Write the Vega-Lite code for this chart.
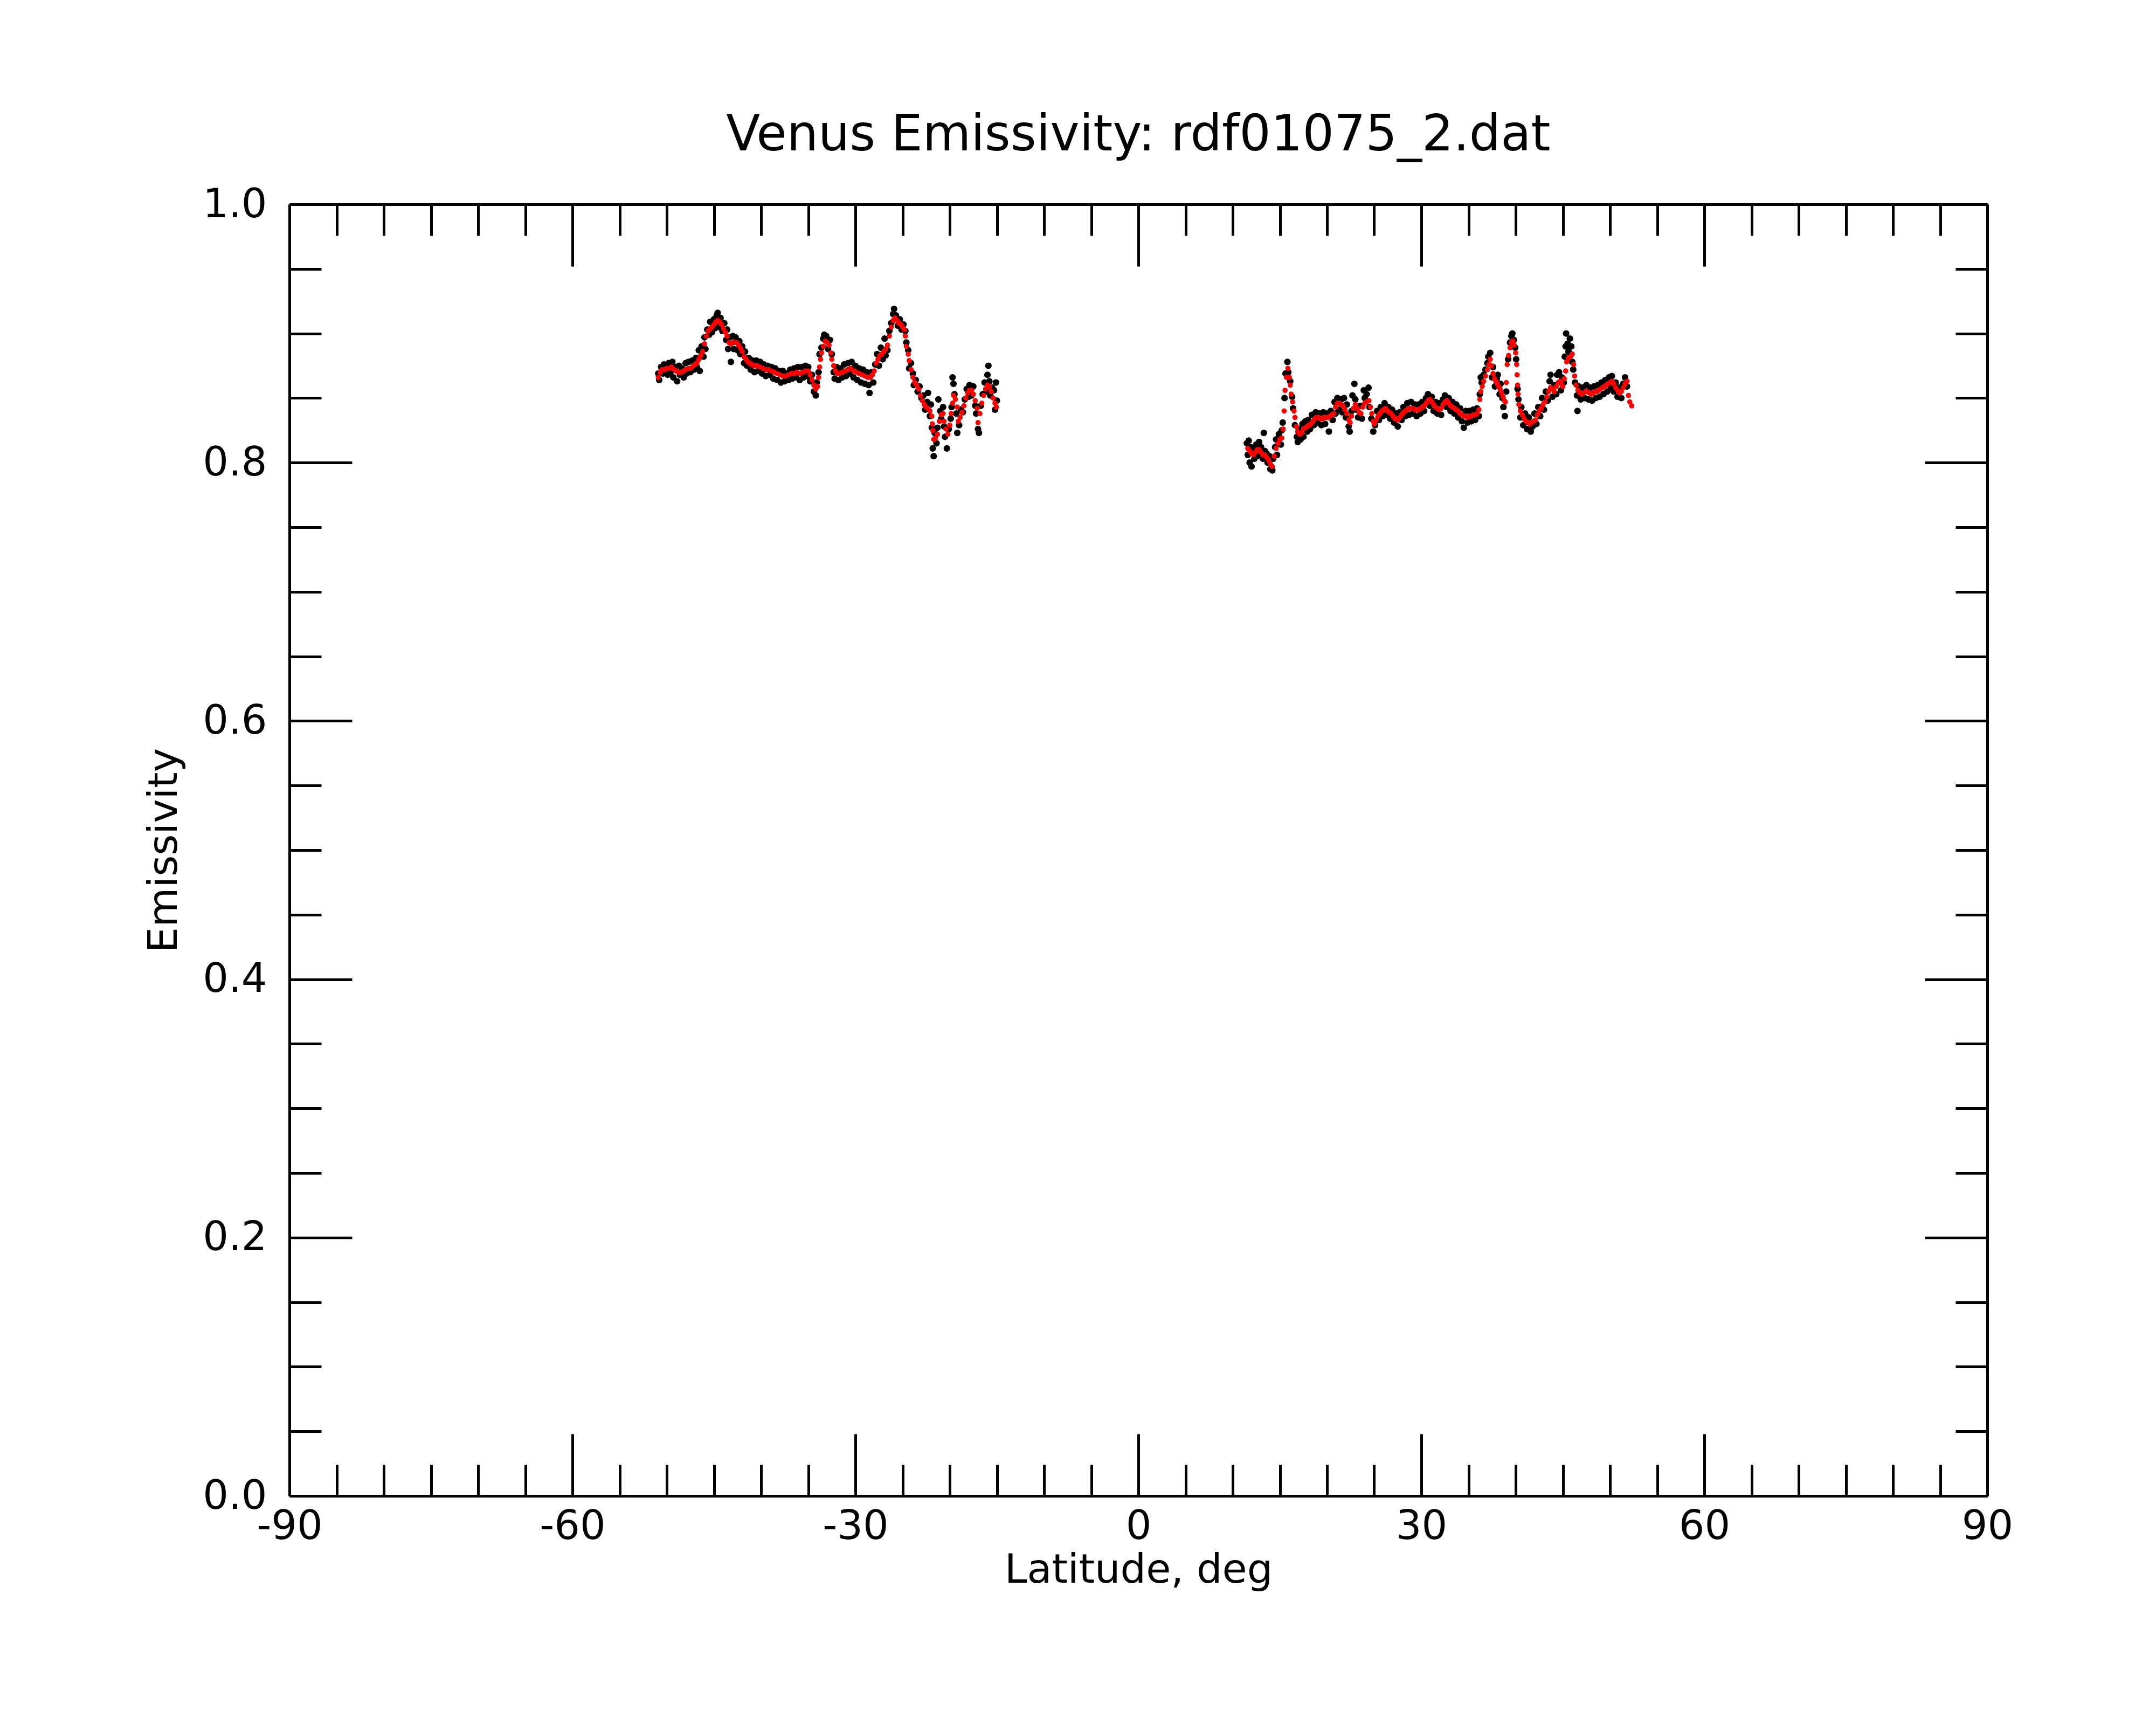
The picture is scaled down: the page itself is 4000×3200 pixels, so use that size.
{
"$schema": "https://vega.github.io/schema/vega-lite/v6.json",
"width": 3150, "height": 2396,
"autosize": {"type": "none"},
"padding": {"left": 537, "top": 379, "right": 313, "bottom": 425},
"background": "white",
"config": {"view": {"stroke": null}, "font": "DejaVu Sans"},
"title": {"text": "Venus Emissivity: rdf01075_2.dat", "fontSize": 92, "font": "DejaVu Sans", "fontWeight": "normal", "color": "black", "anchor": "middle", "offset": 44},
"datasets": {
"raw": [
{"lat":-50.9,"e":0.869},{"lat":-50.8,"e":0.864},{"lat":-50.6,"e":0.874},{"lat":-50.4,"e":0.869},{"lat":-50.3,"e":0.876},{"lat":-50.1,"e":0.871},{"lat":-49.9,"e":0.868},{"lat":-49.8,"e":0.877},{"lat":-49.6,"e":0.870},{"lat":-49.4,"e":0.878},{"lat":-49.3,"e":0.866},{"lat":-49.1,"e":0.874},{"lat":-48.9,"e":0.863},{"lat":-48.7,"e":0.875},{"lat":-48.6,"e":0.868},{"lat":-48.4,"e":0.873},{"lat":-48.2,"e":0.866},{"lat":-48.0,"e":0.877},{"lat":-47.9,"e":0.869},{"lat":-47.7,"e":0.878},{"lat":-47.5,"e":0.870},{"lat":-47.3,"e":0.879},{"lat":-47.1,"e":0.872},{"lat":-46.9,"e":0.881},{"lat":-46.8,"e":0.874},{"lat":-46.6,"e":0.887},{"lat":-46.5,"e":0.871},{"lat":-46.3,"e":0.890},{"lat":-46.1,"e":0.882},{"lat":-46.0,"e":0.897},{"lat":-45.9,"e":0.888},{"lat":-45.7,"e":0.903},{"lat":-45.5,"e":0.899},{"lat":-45.4,"e":0.909},{"lat":-45.2,"e":0.901},{"lat":-45.0,"e":0.911},{"lat":-44.9,"e":0.904},{"lat":-44.7,"e":0.914},{"lat":-44.6,"e":0.916},{"lat":-44.5,"e":0.905},{"lat":-44.3,"e":0.912},{"lat":-44.1,"e":0.902},{"lat":-43.9,"e":0.908},{"lat":-43.7,"e":0.895},{"lat":-43.6,"e":0.903},{"lat":-43.5,"e":0.888},{"lat":-43.3,"e":0.897},{"lat":-43.2,"e":0.878},{"lat":-43.0,"e":0.898},{"lat":-42.9,"e":0.888},{"lat":-42.7,"e":0.897},{"lat":-42.5,"e":0.887},{"lat":-42.3,"e":0.894},{"lat":-42.2,"e":0.884},{"lat":-42.0,"e":0.890},{"lat":-41.8,"e":0.877},{"lat":-41.7,"e":0.886},{"lat":-41.5,"e":0.875},{"lat":-41.3,"e":0.881},{"lat":-41.1,"e":0.872},{"lat":-40.9,"e":0.879},{"lat":-40.7,"e":0.870},{"lat":-40.5,"e":0.879},{"lat":-40.3,"e":0.871},{"lat":-40.1,"e":0.878},{"lat":-39.9,"e":0.869},{"lat":-39.7,"e":0.876},{"lat":-39.5,"e":0.867},{"lat":-39.3,"e":0.875},{"lat":-39.1,"e":0.868},{"lat":-38.9,"e":0.874},{"lat":-38.7,"e":0.865},{"lat":-38.5,"e":0.873},{"lat":-38.3,"e":0.864},{"lat":-38.1,"e":0.871},{"lat":-37.9,"e":0.862},{"lat":-37.7,"e":0.871},{"lat":-37.5,"e":0.863},{"lat":-37.3,"e":0.869},{"lat":-37.1,"e":0.864},{"lat":-36.9,"e":0.872},{"lat":-36.7,"e":0.865},{"lat":-36.5,"e":0.873},{"lat":-36.3,"e":0.866},{"lat":-36.1,"e":0.874},{"lat":-35.9,"e":0.864},{"lat":-35.7,"e":0.874},{"lat":-35.5,"e":0.866},{"lat":-35.3,"e":0.875},{"lat":-35.1,"e":0.867},{"lat":-35.0,"e":0.874},{"lat":-34.8,"e":0.863},{"lat":-34.6,"e":0.868},{"lat":-34.4,"e":0.855},{"lat":-34.2,"e":0.852},{"lat":-34.1,"e":0.862},{"lat":-33.9,"e":0.870},{"lat":-33.8,"e":0.884},{"lat":-33.6,"e":0.889},{"lat":-33.4,"e":0.896},{"lat":-33.3,"e":0.899},{"lat":-33.1,"e":0.898},{"lat":-32.9,"e":0.888},{"lat":-32.7,"e":0.895},{"lat":-32.5,"e":0.884},{"lat":-32.3,"e":0.870},{"lat":-32.2,"e":0.865},{"lat":-32.0,"e":0.874},{"lat":-31.8,"e":0.864},{"lat":-31.6,"e":0.873},{"lat":-31.4,"e":0.866},{"lat":-31.2,"e":0.876},{"lat":-31.0,"e":0.867},{"lat":-30.8,"e":0.877},{"lat":-30.6,"e":0.869},{"lat":-30.4,"e":0.878},{"lat":-30.2,"e":0.866},{"lat":-30.0,"e":0.875},{"lat":-29.8,"e":0.864},{"lat":-29.6,"e":0.873},{"lat":-29.4,"e":0.862},{"lat":-29.2,"e":0.872},{"lat":-29.0,"e":0.861},{"lat":-28.8,"e":0.870},{"lat":-28.6,"e":0.860},{"lat":-28.5,"e":0.854},{"lat":-28.3,"e":0.870},{"lat":-28.1,"e":0.862},{"lat":-27.9,"e":0.876},{"lat":-27.7,"e":0.884},{"lat":-27.5,"e":0.875},{"lat":-27.3,"e":0.889},{"lat":-27.1,"e":0.880},{"lat":-26.9,"e":0.896},{"lat":-26.8,"e":0.883},{"lat":-26.6,"e":0.887},{"lat":-26.4,"e":0.902},{"lat":-26.2,"e":0.908},{"lat":-26.0,"e":0.915},{"lat":-25.9,"e":0.919},{"lat":-25.7,"e":0.914},{"lat":-25.5,"e":0.906},{"lat":-25.3,"e":0.911},{"lat":-25.1,"e":0.903},{"lat":-24.9,"e":0.907},{"lat":-24.7,"e":0.902},{"lat":-24.6,"e":0.893},{"lat":-24.4,"e":0.887},{"lat":-24.3,"e":0.873},{"lat":-24.1,"e":0.877},{"lat":-23.9,"e":0.869},{"lat":-23.8,"e":0.860},{"lat":-23.6,"e":0.864},{"lat":-23.4,"e":0.855},{"lat":-23.2,"e":0.859},{"lat":-23.0,"e":0.850},{"lat":-22.8,"e":0.852},{"lat":-22.6,"e":0.841},{"lat":-22.4,"e":0.847},{"lat":-22.3,"e":0.854},{"lat":-22.1,"e":0.836},{"lat":-22.0,"e":0.845},{"lat":-21.9,"e":0.827},{"lat":-21.8,"e":0.811},{"lat":-21.7,"e":0.805},{"lat":-21.6,"e":0.823},{"lat":-21.4,"e":0.815},{"lat":-21.3,"e":0.827},{"lat":-21.2,"e":0.849},{"lat":-21.0,"e":0.840},{"lat":-20.9,"e":0.834},{"lat":-20.7,"e":0.843},{"lat":-20.6,"e":0.828},{"lat":-20.5,"e":0.820},{"lat":-20.3,"e":0.811},{"lat":-20.1,"e":0.826},{"lat":-19.9,"e":0.834},{"lat":-19.8,"e":0.843},{"lat":-19.7,"e":0.866},{"lat":-19.6,"e":0.861},{"lat":-19.5,"e":0.853},{"lat":-19.3,"e":0.838},{"lat":-19.2,"e":0.823},{"lat":-19.0,"e":0.829},{"lat":-18.8,"e":0.841},{"lat":-18.6,"e":0.839},{"lat":-18.4,"e":0.849},{"lat":-18.2,"e":0.857},{"lat":-18.0,"e":0.851},{"lat":-17.9,"e":0.860},{"lat":-17.7,"e":0.852},{"lat":-17.5,"e":0.859},{"lat":-17.3,"e":0.844},{"lat":-17.2,"e":0.838},{"lat":-17.0,"e":0.826},{"lat":-16.9,"e":0.823},{"lat":-16.7,"e":0.844},{"lat":-16.5,"e":0.853},{"lat":-16.3,"e":0.862},{"lat":-16.1,"e":0.855},{"lat":-16.0,"e":0.868},{"lat":-15.9,"e":0.875},{"lat":-15.8,"e":0.863},{"lat":-15.7,"e":0.852},{"lat":-15.5,"e":0.858},{"lat":-15.3,"e":0.856},{"lat":-15.2,"e":0.841},{"lat":-15.1,"e":0.862},{"lat":-15.0,"e":0.848},
{"lat":11.5,"e":0.815},{"lat":11.6,"e":0.806},{"lat":11.7,"e":0.817},{"lat":11.8,"e":0.800},{"lat":11.9,"e":0.812},{"lat":12.0,"e":0.797},{"lat":12.2,"e":0.811},{"lat":12.3,"e":0.803},{"lat":12.5,"e":0.814},{"lat":12.6,"e":0.805},{"lat":12.8,"e":0.816},{"lat":12.9,"e":0.806},{"lat":13.0,"e":0.812},{"lat":13.2,"e":0.803},{"lat":13.3,"e":0.823},{"lat":13.4,"e":0.809},{"lat":13.6,"e":0.807},{"lat":13.7,"e":0.800},{"lat":13.9,"e":0.805},{"lat":14.0,"e":0.795},{"lat":14.2,"e":0.794},{"lat":14.3,"e":0.803},{"lat":14.5,"e":0.812},{"lat":14.6,"e":0.818},{"lat":14.7,"e":0.806},{"lat":14.9,"e":0.822},{"lat":15.1,"e":0.814},{"lat":15.2,"e":0.825},{"lat":15.3,"e":0.831},{"lat":15.5,"e":0.850},{"lat":15.6,"e":0.869},{"lat":15.8,"e":0.878},{"lat":15.9,"e":0.870},{"lat":16.1,"e":0.863},{"lat":16.3,"e":0.851},{"lat":16.4,"e":0.842},{"lat":16.6,"e":0.829},{"lat":16.8,"e":0.820},{"lat":16.9,"e":0.816},{"lat":17.0,"e":0.826},{"lat":17.2,"e":0.818},{"lat":17.4,"e":0.830},{"lat":17.5,"e":0.820},{"lat":17.7,"e":0.832},{"lat":17.9,"e":0.824},{"lat":18.0,"e":0.833},{"lat":18.2,"e":0.826},{"lat":18.4,"e":0.837},{"lat":18.6,"e":0.829},{"lat":18.8,"e":0.839},{"lat":19.0,"e":0.831},{"lat":19.2,"e":0.838},{"lat":19.4,"e":0.829},{"lat":19.6,"e":0.839},{"lat":19.8,"e":0.830},{"lat":20.0,"e":0.838},{"lat":20.2,"e":0.824},{"lat":20.4,"e":0.840},{"lat":20.6,"e":0.833},{"lat":20.8,"e":0.847},{"lat":20.9,"e":0.838},{"lat":21.1,"e":0.850},{"lat":21.3,"e":0.841},{"lat":21.5,"e":0.849},{"lat":21.6,"e":0.839},{"lat":21.8,"e":0.850},{"lat":22.0,"e":0.835},{"lat":22.1,"e":0.845},{"lat":22.3,"e":0.828},{"lat":22.4,"e":0.824},{"lat":22.6,"e":0.840},{"lat":22.7,"e":0.852},{"lat":22.9,"e":0.861},{"lat":23.0,"e":0.849},{"lat":23.1,"e":0.841},{"lat":23.3,"e":0.835},{"lat":23.5,"e":0.844},{"lat":23.7,"e":0.834},{"lat":23.9,"e":0.856},{"lat":24.0,"e":0.850},{"lat":24.2,"e":0.853},{"lat":24.4,"e":0.858},{"lat":24.5,"e":0.843},{"lat":24.7,"e":0.834},{"lat":24.9,"e":0.824},{"lat":25.1,"e":0.829},{"lat":25.3,"e":0.840},{"lat":25.5,"e":0.833},{"lat":25.7,"e":0.843},{"lat":25.9,"e":0.836},{"lat":26.1,"e":0.846},{"lat":26.3,"e":0.837},{"lat":26.5,"e":0.843},{"lat":26.7,"e":0.834},{"lat":26.9,"e":0.841},{"lat":27.1,"e":0.831},{"lat":27.3,"e":0.838},{"lat":27.5,"e":0.828},{"lat":27.7,"e":0.839},{"lat":27.9,"e":0.833},{"lat":28.1,"e":0.843},{"lat":28.3,"e":0.836},{"lat":28.5,"e":0.846},{"lat":28.7,"e":0.837},{"lat":28.9,"e":0.847},{"lat":29.1,"e":0.838},{"lat":29.3,"e":0.845},{"lat":29.5,"e":0.836},{"lat":29.7,"e":0.845},{"lat":29.9,"e":0.838},{"lat":30.1,"e":0.847},{"lat":30.3,"e":0.840},{"lat":30.5,"e":0.850},{"lat":30.7,"e":0.853},{"lat":30.9,"e":0.844},{"lat":31.1,"e":0.851},{"lat":31.3,"e":0.840},{"lat":31.5,"e":0.847},{"lat":31.7,"e":0.838},{"lat":31.9,"e":0.846},{"lat":32.1,"e":0.837},{"lat":32.3,"e":0.849},{"lat":32.5,"e":0.852},{"lat":32.7,"e":0.843},{"lat":32.9,"e":0.850},{"lat":33.1,"e":0.840},{"lat":33.3,"e":0.847},{"lat":33.5,"e":0.838},{"lat":33.7,"e":0.845},{"lat":33.9,"e":0.835},{"lat":34.1,"e":0.842},{"lat":34.3,"e":0.832},{"lat":34.5,"e":0.827},{"lat":34.7,"e":0.840},{"lat":34.9,"e":0.831},{"lat":35.1,"e":0.840},{"lat":35.3,"e":0.832},{"lat":35.5,"e":0.841},{"lat":35.7,"e":0.833},{"lat":35.9,"e":0.842},{"lat":36.1,"e":0.836},{"lat":36.2,"e":0.853},{"lat":36.3,"e":0.866},{"lat":36.4,"e":0.862},{"lat":36.6,"e":0.868},{"lat":36.8,"e":0.872},{"lat":37.0,"e":0.877},{"lat":37.1,"e":0.882},{"lat":37.3,"e":0.885},{"lat":37.5,"e":0.866},{"lat":37.6,"e":0.874},{"lat":37.8,"e":0.859},{"lat":38.0,"e":0.865},{"lat":38.1,"e":0.868},{"lat":38.3,"e":0.853},{"lat":38.4,"e":0.861},{"lat":38.6,"e":0.850},{"lat":38.7,"e":0.843},{"lat":38.85,"e":0.836},{"lat":39.0,"e":0.855},{"lat":39.2,"e":0.880},{"lat":39.4,"e":0.893},{"lat":39.55,"e":0.898},{"lat":39.65,"e":0.900},{"lat":39.8,"e":0.895},{"lat":39.95,"e":0.889},{"lat":40.05,"e":0.880},{"lat":40.2,"e":0.857},{"lat":40.3,"e":0.849},{"lat":40.5,"e":0.835},{"lat":40.6,"e":0.843},{"lat":40.8,"e":0.829},{"lat":41.0,"e":0.838},{"lat":41.2,"e":0.826},{"lat":41.4,"e":0.835},{"lat":41.6,"e":0.824},{"lat":41.8,"e":0.828},{"lat":42.0,"e":0.838},{"lat":42.2,"e":0.830},{"lat":42.4,"e":0.843},{"lat":42.6,"e":0.836},{"lat":42.8,"e":0.850},{"lat":43.0,"e":0.841},{"lat":43.2,"e":0.855},{"lat":43.4,"e":0.848},{"lat":43.6,"e":0.863},{"lat":43.7,"e":0.868},{"lat":43.9,"e":0.851},{"lat":44.1,"e":0.860},{"lat":44.3,"e":0.853},{"lat":44.4,"e":0.868},{"lat":44.6,"e":0.870},{"lat":44.8,"e":0.856},{"lat":44.9,"e":0.866},{"lat":45.1,"e":0.862},{"lat":45.2,"e":0.882},{"lat":45.3,"e":0.890},{"lat":45.35,"e":0.900},{"lat":45.5,"e":0.892},{"lat":45.6,"e":0.886},{"lat":45.75,"e":0.896},{"lat":45.9,"e":0.890},{"lat":46.0,"e":0.878},{"lat":46.1,"e":0.872},{"lat":46.3,"e":0.862},{"lat":46.5,"e":0.852},{"lat":46.55,"e":0.840},{"lat":46.7,"e":0.859},{"lat":46.9,"e":0.849},{"lat":47.1,"e":0.858},{"lat":47.3,"e":0.850},{"lat":47.5,"e":0.860},{"lat":47.7,"e":0.849},{"lat":47.9,"e":0.858},{"lat":48.1,"e":0.848},{"lat":48.3,"e":0.859},{"lat":48.5,"e":0.850},{"lat":48.7,"e":0.860},{"lat":48.9,"e":0.851},{"lat":49.1,"e":0.862},{"lat":49.3,"e":0.853},{"lat":49.5,"e":0.864},{"lat":49.7,"e":0.855},{"lat":49.9,"e":0.866},{"lat":50.1,"e":0.858},{"lat":50.2,"e":0.867},{"lat":50.4,"e":0.855},{"lat":50.6,"e":0.862},{"lat":50.8,"e":0.851},{"lat":51.0,"e":0.858},{"lat":51.2,"e":0.850},{"lat":51.4,"e":0.861},{"lat":51.6,"e":0.866},{"lat":51.8,"e":0.859}
],
"smooth": [
{"lat":-50.9,"e":0.866},{"lat":-50.7,"e":0.870},{"lat":-50.5,"e":0.872},{"lat":-50.2,"e":0.872},{"lat":-50.0,"e":0.873},{"lat":-49.7,"e":0.873},{"lat":-49.5,"e":0.874},{"lat":-49.2,"e":0.872},{"lat":-49.0,"e":0.871},{"lat":-48.8,"e":0.870},{"lat":-48.5,"e":0.870},{"lat":-48.2,"e":0.871},{"lat":-48.0,"e":0.872},{"lat":-47.7,"e":0.873},{"lat":-47.5,"e":0.873},{"lat":-47.2,"e":0.875},{"lat":-47.0,"e":0.876},{"lat":-46.8,"e":0.877},{"lat":-46.6,"e":0.880},{"lat":-46.4,"e":0.883},{"lat":-46.2,"e":0.886},{"lat":-46.0,"e":0.892},{"lat":-45.8,"e":0.898},{"lat":-45.6,"e":0.902},{"lat":-45.4,"e":0.904},{"lat":-45.2,"e":0.905},{"lat":-45.0,"e":0.907},{"lat":-44.8,"e":0.909},{"lat":-44.6,"e":0.910},{"lat":-44.4,"e":0.909},{"lat":-44.2,"e":0.907},{"lat":-44.0,"e":0.904},{"lat":-43.8,"e":0.901},{"lat":-43.6,"e":0.898},{"lat":-43.4,"e":0.893},{"lat":-43.2,"e":0.892},{"lat":-43.0,"e":0.893},{"lat":-42.8,"e":0.893},{"lat":-42.6,"e":0.893},{"lat":-42.4,"e":0.891},{"lat":-42.2,"e":0.889},{"lat":-42.0,"e":0.886},{"lat":-41.8,"e":0.882},{"lat":-41.6,"e":0.880},{"lat":-41.4,"e":0.878},{"lat":-41.2,"e":0.877},{"lat":-41.0,"e":0.876},{"lat":-40.7,"e":0.875},{"lat":-40.4,"e":0.875},{"lat":-40.1,"e":0.874},{"lat":-39.8,"e":0.873},{"lat":-39.5,"e":0.872},{"lat":-39.2,"e":0.872},{"lat":-38.9,"e":0.871},{"lat":-38.6,"e":0.870},{"lat":-38.3,"e":0.869},{"lat":-38.0,"e":0.868},{"lat":-37.7,"e":0.867},{"lat":-37.4,"e":0.867},{"lat":-37.1,"e":0.868},{"lat":-36.8,"e":0.869},{"lat":-36.5,"e":0.869},{"lat":-36.2,"e":0.870},{"lat":-35.9,"e":0.869},{"lat":-35.6,"e":0.870},{"lat":-35.3,"e":0.871},{"lat":-35.0,"e":0.871},{"lat":-34.8,"e":0.868},{"lat":-34.6,"e":0.864},{"lat":-34.4,"e":0.860},{"lat":-34.2,"e":0.857},{"lat":-34.0,"e":0.859},{"lat":-33.9,"e":0.866},{"lat":-33.8,"e":0.874},{"lat":-33.7,"e":0.880},{"lat":-33.6,"e":0.885},{"lat":-33.4,"e":0.890},{"lat":-33.2,"e":0.894},{"lat":-33.0,"e":0.893},{"lat":-32.8,"e":0.891},{"lat":-32.6,"e":0.885},{"lat":-32.5,"e":0.880},{"lat":-32.3,"e":0.875},{"lat":-32.1,"e":0.871},{"lat":-31.9,"e":0.869},{"lat":-31.7,"e":0.869},{"lat":-31.4,"e":0.870},{"lat":-31.1,"e":0.871},{"lat":-30.8,"e":0.872},{"lat":-30.5,"e":0.873},{"lat":-30.2,"e":0.871},{"lat":-29.9,"e":0.870},{"lat":-29.6,"e":0.869},{"lat":-29.3,"e":0.868},{"lat":-29.0,"e":0.867},{"lat":-28.7,"e":0.866},{"lat":-28.4,"e":0.866},{"lat":-28.2,"e":0.868},{"lat":-28.0,"e":0.871},{"lat":-27.8,"e":0.877},{"lat":-27.6,"e":0.880},{"lat":-27.4,"e":0.883},{"lat":-27.2,"e":0.884},{"lat":-27.0,"e":0.886},{"lat":-26.8,"e":0.888},{"lat":-26.6,"e":0.891},{"lat":-26.4,"e":0.898},{"lat":-26.2,"e":0.905},{"lat":-26.0,"e":0.910},{"lat":-25.8,"e":0.912},{"lat":-25.6,"e":0.910},{"lat":-25.4,"e":0.908},{"lat":-25.2,"e":0.907},{"lat":-25.0,"e":0.905},{"lat":-24.8,"e":0.903},{"lat":-24.7,"e":0.898},{"lat":-24.6,"e":0.890},{"lat":-24.4,"e":0.884},{"lat":-24.3,"e":0.879},{"lat":-24.1,"e":0.872},{"lat":-23.9,"e":0.866},{"lat":-23.7,"e":0.862},{"lat":-23.5,"e":0.860},{"lat":-23.3,"e":0.857},{"lat":-23.1,"e":0.852},{"lat":-22.9,"e":0.848},{"lat":-22.7,"e":0.845},{"lat":-22.5,"e":0.843},{"lat":-22.3,"e":0.842},{"lat":-22.1,"e":0.840},{"lat":-21.9,"e":0.836},{"lat":-21.85,"e":0.830},{"lat":-21.8,"e":0.825},{"lat":-21.7,"e":0.818},{"lat":-21.5,"e":0.819},{"lat":-21.3,"e":0.822},{"lat":-21.1,"e":0.832},{"lat":-20.9,"e":0.837},{"lat":-20.7,"e":0.838},{"lat":-20.6,"e":0.832},{"lat":-20.4,"e":0.826},{"lat":-20.2,"e":0.822},{"lat":-20.0,"e":0.829},{"lat":-19.85,"e":0.838},{"lat":-19.7,"e":0.846},{"lat":-19.6,"e":0.852},{"lat":-19.4,"e":0.849},{"lat":-19.2,"e":0.843},{"lat":-19.1,"e":0.832},{"lat":-18.9,"e":0.835},{"lat":-18.7,"e":0.839},{"lat":-18.5,"e":0.844},{"lat":-18.3,"e":0.850},{"lat":-18.1,"e":0.854},{"lat":-17.9,"e":0.856},{"lat":-17.7,"e":0.856},{"lat":-17.5,"e":0.853},{"lat":-17.3,"e":0.848},{"lat":-17.1,"e":0.842},{"lat":-17.0,"e":0.831},{"lat":-16.8,"e":0.838},{"lat":-16.6,"e":0.846},{"lat":-16.4,"e":0.852},{"lat":-16.2,"e":0.857},{"lat":-16.0,"e":0.860},{"lat":-15.8,"e":0.859},{"lat":-15.6,"e":0.855},{"lat":-15.4,"e":0.850},{"lat":-15.2,"e":0.846},{"lat":-15.05,"e":0.843},
{"lat":11.6,"e":0.811},{"lat":11.8,"e":0.809},{"lat":12.0,"e":0.807},{"lat":12.2,"e":0.806},{"lat":12.4,"e":0.808},{"lat":12.6,"e":0.810},{"lat":12.8,"e":0.810},{"lat":13.0,"e":0.808},{"lat":13.2,"e":0.806},{"lat":13.4,"e":0.806},{"lat":13.6,"e":0.804},{"lat":13.8,"e":0.802},{"lat":14.0,"e":0.799},{"lat":14.2,"e":0.797},{"lat":14.4,"e":0.805},{"lat":14.6,"e":0.811},{"lat":14.8,"e":0.815},{"lat":15.0,"e":0.818},{"lat":15.2,"e":0.819},{"lat":15.35,"e":0.826},{"lat":15.45,"e":0.840},{"lat":15.55,"e":0.856},{"lat":15.7,"e":0.866},{"lat":15.85,"e":0.873},{"lat":16.0,"e":0.866},{"lat":16.1,"e":0.860},{"lat":16.2,"e":0.853},{"lat":16.35,"e":0.847},{"lat":16.5,"e":0.840},{"lat":16.6,"e":0.835},{"lat":16.75,"e":0.828},{"lat":16.9,"e":0.824},{"lat":17.1,"e":0.822},{"lat":17.3,"e":0.823},{"lat":17.5,"e":0.826},{"lat":17.7,"e":0.827},{"lat":17.9,"e":0.828},{"lat":18.1,"e":0.829},{"lat":18.3,"e":0.830},{"lat":18.5,"e":0.832},{"lat":18.7,"e":0.834},{"lat":18.9,"e":0.835},{"lat":19.1,"e":0.835},{"lat":19.3,"e":0.834},{"lat":19.5,"e":0.834},{"lat":19.7,"e":0.835},{"lat":19.9,"e":0.835},{"lat":20.1,"e":0.835},{"lat":20.3,"e":0.836},{"lat":20.5,"e":0.837},{"lat":20.7,"e":0.838},{"lat":20.9,"e":0.843},{"lat":21.1,"e":0.846},{"lat":21.3,"e":0.846},{"lat":21.5,"e":0.845},{"lat":21.7,"e":0.844},{"lat":21.9,"e":0.841},{"lat":22.1,"e":0.838},{"lat":22.3,"e":0.833},{"lat":22.45,"e":0.831},{"lat":22.6,"e":0.836},{"lat":22.8,"e":0.842},{"lat":23.0,"e":0.845},{"lat":23.2,"e":0.842},{"lat":23.4,"e":0.839},{"lat":23.6,"e":0.838},{"lat":23.8,"e":0.843},{"lat":24.0,"e":0.846},{"lat":24.2,"e":0.847},{"lat":24.45,"e":0.848},{"lat":24.6,"e":0.843},{"lat":24.75,"e":0.838},{"lat":24.9,"e":0.832},{"lat":25.0,"e":0.830},{"lat":25.2,"e":0.833},{"lat":25.4,"e":0.836},{"lat":25.6,"e":0.838},{"lat":25.8,"e":0.840},{"lat":26.0,"e":0.841},{"lat":26.2,"e":0.842},{"lat":26.4,"e":0.840},{"lat":26.6,"e":0.839},{"lat":26.8,"e":0.838},{"lat":27.0,"e":0.836},{"lat":27.2,"e":0.834},{"lat":27.5,"e":0.833},{"lat":27.7,"e":0.835},{"lat":27.9,"e":0.837},{"lat":28.1,"e":0.839},{"lat":28.3,"e":0.840},{"lat":28.5,"e":0.841},{"lat":28.7,"e":0.842},{"lat":28.9,"e":0.842},{"lat":29.1,"e":0.842},{"lat":29.3,"e":0.841},{"lat":29.5,"e":0.841},{"lat":29.7,"e":0.841},{"lat":29.9,"e":0.842},{"lat":30.1,"e":0.843},{"lat":30.3,"e":0.844},{"lat":30.5,"e":0.846},{"lat":30.7,"e":0.848},{"lat":30.9,"e":0.849},{"lat":31.1,"e":0.847},{"lat":31.3,"e":0.845},{"lat":31.5,"e":0.843},{"lat":31.7,"e":0.842},{"lat":31.9,"e":0.841},{"lat":32.1,"e":0.842},{"lat":32.3,"e":0.845},{"lat":32.5,"e":0.847},{"lat":32.7,"e":0.848},{"lat":32.9,"e":0.846},{"lat":33.1,"e":0.844},{"lat":33.3,"e":0.843},{"lat":33.5,"e":0.842},{"lat":33.7,"e":0.841},{"lat":33.9,"e":0.840},{"lat":34.1,"e":0.838},{"lat":34.3,"e":0.837},{"lat":34.5,"e":0.836},{"lat":34.7,"e":0.836},{"lat":34.9,"e":0.835},{"lat":35.1,"e":0.836},{"lat":35.3,"e":0.836},{"lat":35.5,"e":0.837},{"lat":35.7,"e":0.837},{"lat":35.9,"e":0.838},{"lat":36.1,"e":0.841},{"lat":36.2,"e":0.849},{"lat":36.3,"e":0.855},{"lat":36.45,"e":0.859},{"lat":36.6,"e":0.863},{"lat":36.8,"e":0.867},{"lat":37.0,"e":0.872},{"lat":37.15,"e":0.876},{"lat":37.3,"e":0.880},{"lat":37.45,"e":0.875},{"lat":37.6,"e":0.869},{"lat":37.75,"e":0.865},{"lat":37.9,"e":0.863},{"lat":38.05,"e":0.861},{"lat":38.2,"e":0.859},{"lat":38.35,"e":0.857},{"lat":38.5,"e":0.854},{"lat":38.65,"e":0.851},{"lat":38.8,"e":0.848},{"lat":38.9,"e":0.847},{"lat":39.0,"e":0.862},{"lat":39.1,"e":0.876},{"lat":39.25,"e":0.883},{"lat":39.4,"e":0.889},{"lat":39.55,"e":0.893},{"lat":39.7,"e":0.894},{"lat":39.85,"e":0.891},{"lat":40.0,"e":0.885},{"lat":40.1,"e":0.876},{"lat":40.15,"e":0.868},{"lat":40.2,"e":0.860},{"lat":40.25,"e":0.853},{"lat":40.35,"e":0.845},{"lat":40.5,"e":0.840},{"lat":40.7,"e":0.837},{"lat":40.9,"e":0.834},{"lat":41.1,"e":0.832},{"lat":41.3,"e":0.831},{"lat":41.5,"e":0.830},{"lat":41.7,"e":0.831},{"lat":41.9,"e":0.832},{"lat":42.1,"e":0.833},{"lat":42.3,"e":0.837},{"lat":42.5,"e":0.840},{"lat":42.7,"e":0.842},{"lat":42.9,"e":0.845},{"lat":43.1,"e":0.847},{"lat":43.3,"e":0.851},{"lat":43.5,"e":0.855},{"lat":43.7,"e":0.858},{"lat":43.9,"e":0.857},{"lat":44.1,"e":0.855},{"lat":44.3,"e":0.859},{"lat":44.5,"e":0.862},{"lat":44.7,"e":0.863},{"lat":44.9,"e":0.860},{"lat":45.0,"e":0.859},{"lat":45.15,"e":0.865},{"lat":45.3,"e":0.871},{"lat":45.4,"e":0.878},{"lat":45.6,"e":0.881},{"lat":45.8,"e":0.882},{"lat":46.0,"e":0.884},{"lat":46.15,"e":0.876},{"lat":46.25,"e":0.867},{"lat":46.4,"e":0.860},{"lat":46.6,"e":0.856},{"lat":46.8,"e":0.854},{"lat":47.0,"e":0.853},{"lat":47.2,"e":0.854},{"lat":47.4,"e":0.855},{"lat":47.6,"e":0.855},{"lat":47.8,"e":0.854},{"lat":48.0,"e":0.853},{"lat":48.2,"e":0.854},{"lat":48.4,"e":0.855},{"lat":48.6,"e":0.855},{"lat":48.8,"e":0.856},{"lat":49.0,"e":0.857},{"lat":49.2,"e":0.858},{"lat":49.4,"e":0.859},{"lat":49.6,"e":0.860},{"lat":49.8,"e":0.861},{"lat":50.0,"e":0.862},{"lat":50.2,"e":0.863},{"lat":50.4,"e":0.861},{"lat":50.6,"e":0.858},{"lat":50.8,"e":0.856},{"lat":51.0,"e":0.854},{"lat":51.2,"e":0.855},{"lat":51.4,"e":0.858},{"lat":51.6,"e":0.861},{"lat":51.8,"e":0.863},{"lat":51.95,"e":0.852},{"lat":52.1,"e":0.847},{"lat":52.3,"e":0.844}
]
},
"layer": [
{
"data": {"name": "raw"},
"mark": {"type": "circle", "size": 150, "color": "black", "opacity": 1},
"encoding": {
"x": {"field": "lat", "type": "quantitative", "scale": {"domain": [-90, 90], "nice": false, "zero": false},
"axis": {"orient": "bottom", "values": [-90,-85,-80,-75,-70,-65,-60,-55,-50,-45,-40,-35,-30,-25,-20,-15,-10,-5,0,5,10,15,20,25,30,35,40,45,50,55,60,65,70,75,80,85,90],
"tickSize": {"condition": {"test": "datum.value % 30 === 0", "value": -115}, "value": -58},
"tickWidth": 5, "tickColor": "black", "domainColor": "black", "domainWidth": 5, "grid": false,
"labelExpr": "datum.value % 30 === 0 ? toString(datum.value) : ''",
"labelFont": "DejaVu Sans", "labelFontSize": 75, "labelColor": "black", "labelPadding": 135, "labelBaseline": "top",
"labelFlush": false, "labelOverlap": false, "labelBound": false,
"title": "Latitude, deg", "titleFont": "DejaVu Sans", "titleFontSize": 75, "titleFontWeight": "normal", "titleColor": "black",
"titleX": 1575, "titleY": 160, "titleBaseline": "alphabetic", "titleAlign": "center", "titleAnchor": null}},
"y": {"field": "e", "type": "quantitative", "scale": {"domain": [0, 1], "nice": false, "zero": false},
"axis": {"orient": "left", "values": [0,0.05,0.1,0.15,0.2,0.25,0.3,0.35,0.4,0.45,0.5,0.55,0.6,0.65,0.7,0.75,0.8,0.85,0.9,0.95,1.0],
"tickSize": {"condition": {"test": "abs(datum.value*5 - round(datum.value*5)) < 0.001", "value": -116}, "value": -59},
"tickWidth": 5, "tickColor": "black", "domainColor": "black", "domainWidth": 5, "grid": false,
"labelExpr": "abs(datum.value*5 - round(datum.value*5)) < 0.001 ? format(datum.value, '.1f') : ''",
"labelFont": "DejaVu Sans", "labelFontSize": 75, "labelColor": "black", "labelPadding": 158, "labelAlign": "right", "labelBaseline": "middle",
"labelFlush": false, "labelOverlap": false, "labelBound": false,
"title": "Emissivity", "titleFont": "DejaVu Sans", "titleFontSize": 75, "titleFontWeight": "normal", "titleColor": "black",
"titleX": -210, "titleY": 1198, "titleAngle": -90, "titleBaseline": "alphabetic", "titleAlign": "center", "titleAnchor": null}}
}
},
{
"data": {"name": "smooth"},
"mark": {"type": "circle", "size": 95, "color": "#ff0000", "opacity": 1},
"encoding": {
"x": {"field": "lat", "type": "quantitative", "scale": {"domain": [-90, 90], "nice": false, "zero": false},
"axis": {"orient": "top", "values": [-90,-85,-80,-75,-70,-65,-60,-55,-50,-45,-40,-35,-30,-25,-20,-15,-10,-5,0,5,10,15,20,25,30,35,40,45,50,55,60,65,70,75,80,85,90],
"tickSize": {"condition": {"test": "datum.value % 30 === 0", "value": -115}, "value": -58},
"tickWidth": 5, "tickColor": "black", "domainColor": "black", "domainWidth": 5, "grid": false, "labels": false, "title": null}},
"y": {"field": "e", "type": "quantitative", "scale": {"domain": [0, 1], "nice": false, "zero": false},
"axis": {"orient": "right", "values": [0,0.05,0.1,0.15,0.2,0.25,0.3,0.35,0.4,0.45,0.5,0.55,0.6,0.65,0.7,0.75,0.8,0.85,0.9,0.95,1.0],
"tickSize": {"condition": {"test": "abs(datum.value*5 - round(datum.value*5)) < 0.001", "value": -116}, "value": -59},
"tickWidth": 5, "tickColor": "black", "domainColor": "black", "domainWidth": 5, "grid": false, "labels": false, "title": null}}
}
}
],
"resolve": {"axis": {"x": "independent", "y": "independent"}}
}
